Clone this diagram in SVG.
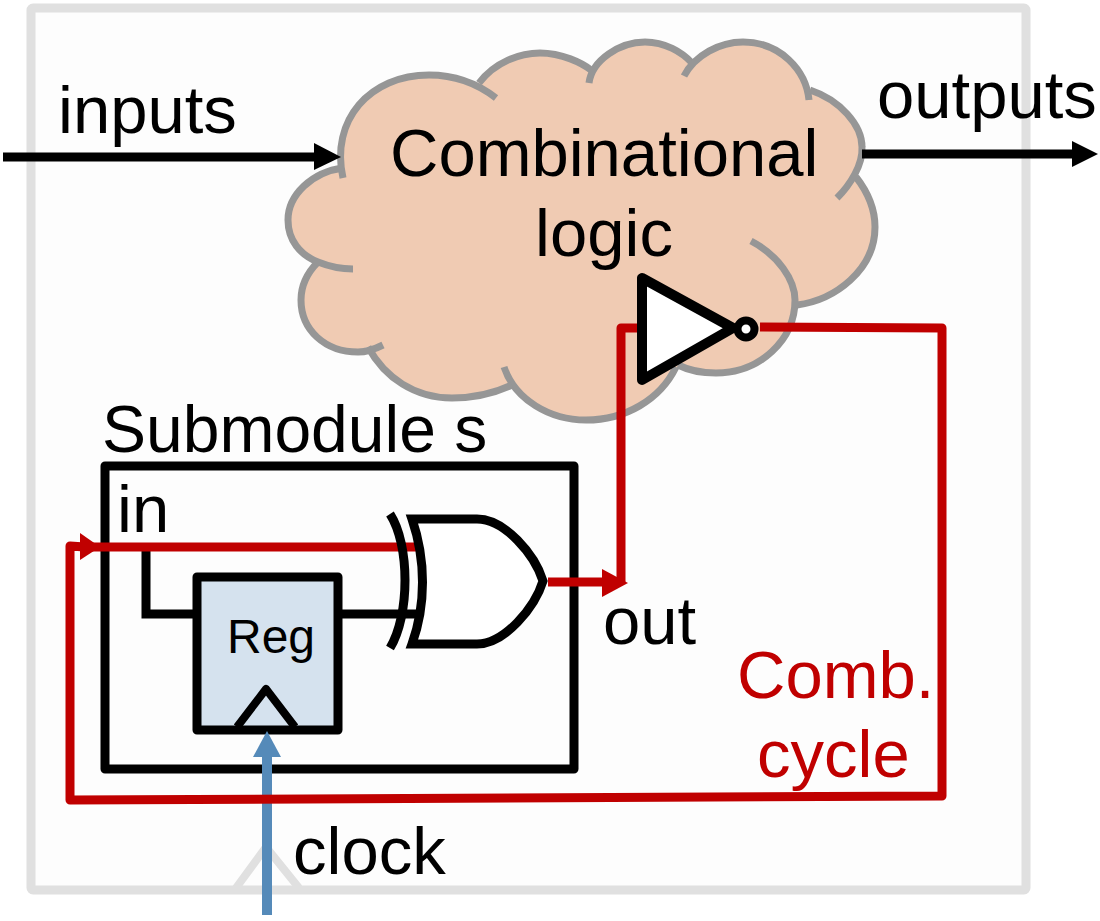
<svg xmlns="http://www.w3.org/2000/svg" width="1100" height="921" viewBox="0 0 1100 921">
<style>
text{font-family:"Liberation Sans",Arial,sans-serif;font-size:67px;fill:#000}
.red{fill:#c00000}
.lobe{fill:none;stroke:#969696;stroke-width:7}
.blk{fill:none;stroke:#000;stroke-width:9;stroke-linejoin:round}
.rw{fill:none;stroke:#c00000;stroke-width:9;stroke-linejoin:round}
.ghost{fill:none;stroke:#e0e0e0;stroke-width:9;stroke-linejoin:round}
</style>
<rect width="1100" height="921" fill="#fff"/>
<g id="frame">
<rect x="31" y="8" width="995" height="882" rx="2" style="fill:#fdfdfd" class="ghost"/>
<path d="M236,888 L266,847 L299,888" class="ghost" style="stroke-width:8"/>
</g>
<g id="cloud">
<path fill="#f0cbb3" d="M343,168 C330,120 370,75 429,75 C447,75 465,78 479,83 C495,62 520,53 540,53 C562,53 582,63 591,70 C600,55 620,42 645,42 C665,42 682,52 692,63 C703,52 720,42 743,42 C780,42 806,70 810,90 C840,100 862,125 862,147 C863,155 860,168 856,177 C870,195 875,212 875,227 C875,270 835,300 797,305 C795,340 760,373 716,373 C700,373 688,370 678,367 C660,400 625,420 586,420 C550,420 525,405 512,385 C495,393 475,398 452,398 C415,398 385,378 368,347 C330,360 301,330 301,300 C301,285 308,272 318,262 C300,255 288,240 288,220 C288,195 312,172 343,168 Z"/>
<path class="lobe" d="M343,178 C330,120 370,75 429,75 C455,75 478,84 496,98"/>
<path class="lobe" d="M479,83 C495,62 520,53 540,53 C562,53 582,63 591,70"/>
<path class="lobe" d="M589,83 C592,60 620,42 645,42 C665,42 682,52 692,63"/>
<path class="lobe" d="M684,76 C695,55 720,42 743,42 C780,42 806,70 809,100"/>
<path class="lobe" d="M810,90 C840,100 862,125 862,147 C863,165 850,185 837,198"/>
<path class="lobe" d="M856,177 C870,195 875,212 875,227 C875,270 835,300 797,305"/>
<path class="lobe" d="M751,241 C778,255 795,280 795,300 C795,340 760,373 716,373 C700,373 688,370 678,365"/>
<path class="lobe" d="M676,367 C660,400 625,420 586,420 C550,420 515,400 504,367"/>
<path class="lobe" d="M512,385 C495,393 475,398 452,398 C415,398 385,378 368,347"/>
<path class="lobe" d="M383,345 C375,349 365,352 358,352 C325,352 301,330 301,300 C301,285 308,272 318,262"/>
<path class="lobe" d="M353,269 C340,269 328,266 318,262 C300,255 288,240 288,220 C288,195 312,172 343,168"/>
<text x="390" y="176">Combinational</text>
<text x="604" y="256" text-anchor="middle">logic</text>
</g>
<g id="submodule">
<rect x="105" y="466" width="469" height="303" class="blk"/>
<text x="102" y="452" style="font-size:66px">Submodule s</text>
<text x="117" y="532">in</text>
<text x="603" y="644">out</text>
</g>
<g id="reg">
<rect x="197" y="577" width="141" height="153" fill="#d5e2ee" stroke="#000" stroke-width="9" stroke-linejoin="round"/>
<path d="M237,727 L266,689 L295,727" class="blk" style="stroke-width:8"/>
<text x="227" y="653" style="font-size:48px">Reg</text>
</g>
<g id="connectors">
<path d="M3,157 H318" stroke="#000" stroke-width="9"/>
<path d="M314,143 L341,157 L314,170 Z" fill="#000"/>
<path d="M862,154 H1075" stroke="#000" stroke-width="9"/>
<path d="M1072,141 L1098,154 L1072,167 Z" fill="#000"/>
<path d="M146,548 V614 H197" class="blk" style="stroke-linejoin:miter"/>
<path d="M338,614 H417" class="blk"/>
<path d="M267,915 V750" stroke="#558ab9" stroke-width="10" fill="none"/>
<path d="M267,731 L281,757 L253,757 Z" fill="#558ab9"/>
<path d="M760,327 L942,328 V796 L70,800 V546 L85,547 H416" class="rw"/>
<path d="M80,533 L100,547 L80,560 Z" class="red"/>
<path d="M548,582 H606" class="rw"/>
<path d="M602,569 L628,583 L602,597 Z" class="red"/>
<path d="M621,584 V328 H642" class="rw"/>
</g>
<g id="or-gate">
<path d="M390,514 C410,545 410,615 390,648" class="blk"/>
<path d="M412,519 L477,519 C505,519 535,555 543,581 C535,607 505,644 477,644 H412 C426,605 426,560 412,519 Z" fill="#fff" stroke="#000" stroke-width="9" stroke-linejoin="miter"/>
</g>
<g id="inverter">
<path d="M642,278 V380 L733,328 Z" fill="#fff" stroke="#000" stroke-width="10" stroke-linejoin="round"/>
<circle cx="746" cy="329" r="8.500" fill="#fff" stroke="#000" stroke-width="8"/>
</g>
<g id="labels">
<text x="58" y="133">inputs</text>
<text x="877" y="118">outputs</text>
<text x="737" y="698" class="red">Comb.</text>
<text x="757" y="777" class="red">cycle</text>
<text x="293" y="874">clock</text>
</g>
</svg>
